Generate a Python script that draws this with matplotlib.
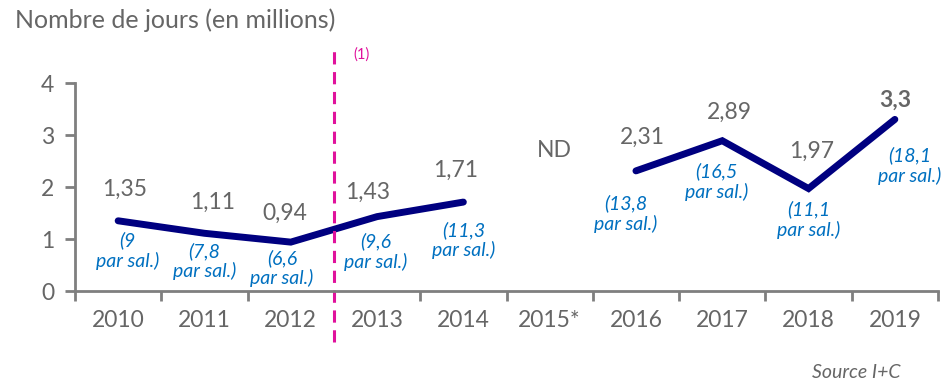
import numpy as np
import matplotlib.pyplot as plt

plt.rcParams['font.family'] = ['Lato', 'DejaVu Sans']

years = ['2010', '2011', '2012', '2013', '2014', '2015*', '2016', '2017', '2018', '2019']
jours = [1.35, 1.11, 0.94, 1.43, 1.71, np.nan, 2.31, 2.89, 1.97, 3.3]
par_sal = [9, 7.8, 6.6, 9.6, 11.3, np.nan, 13.8, 16.5, 11.1, 18.1]

# label offsets in pixels (value above, per-employee below)
val_off = [(6, 31), (8, 31), (-6, 29), (-9, 24), (-8, 32), None, (6, 34), (7, 28), (3, 37), (0, 19)]
sal_off = [(9, -30), (0, -28), (-9, -26), (-1, -35), (0, -38), None, (-10, -43), (-6, -41), (0, -31), (15, -46)]

grey = '#7f7f7f'
txt = '#666666'
blue = '#0070c0'
navy = '#000080'
magenta = '#e0129c'

fig = plt.figure(figsize=(9.49, 3.89), dpi=100)
ax = fig.add_axes([75 / 949, 1 - 291 / 389, 863 / 949, 208 / 389])

x = np.arange(len(years))
ax.plot(x, jours, color=navy, lw=5, solid_joinstyle='miter', solid_capstyle='round')

for i, (v, s) in enumerate(zip(jours, par_sal)):
    if np.isnan(v):
        continue
    bold = i == len(years) - 1
    ax.annotate(str(v).replace('.', ','), (x[i], v), xytext=val_off[i],
                textcoords='offset pixels', ha='center', va='center',
                fontsize=16.5, color=txt, fontweight='bold' if bold else 'normal')
    ax.annotate(f"({s:g}".replace('.', ',') + "\npar sal.)", (x[i], v),
                xytext=sal_off[i], textcoords='offset pixels', ha='center',
                va='center', fontsize=14, color=blue, style='italic',
                linespacing=1.15)

ax.text(5.05, 2.7, 'ND', ha='center', va='center', fontsize=16.5, color=txt)

# break in the series between 2012 and 2013
ax.plot([2.5, 2.5], [-0.98, 4.63], color=magenta, lw=2.2, ls=(0, (4, 2.5)), clip_on=False)
ax.text(2.72, 4.55, '(1)', color=magenta, fontsize=10.5, ha='left', va='center')

ax.set_xlim(-0.5, 9.5)
ax.set_ylim(0, 4)
ax.set_yticks([0, 1, 2, 3, 4])
ax.set_xticks(x)
ax.set_xticklabels(years)
ax.set_xticks(np.arange(-0.5, 10, 1), minor=True)
ax.tick_params(axis='x', which='major', length=0, pad=14, labelsize=16.5, labelcolor=txt)
ax.tick_params(axis='x', which='minor', length=7, width=2, color=grey, direction='out')
ax.tick_params(axis='y', length=7, width=2, color=grey, pad=8, labelsize=16.5, labelcolor=txt)

for side in ['top', 'right']:
    ax.spines[side].set_visible(False)
for side in ['left', 'bottom']:
    ax.spines[side].set_color(grey)
    ax.spines[side].set_linewidth(2)

fig.text(15 / 949, 1 - 20 / 389, 'Nombre de jours (en millions)', fontsize=18,
         color=txt, ha='left', va='center')
fig.text(900 / 949, 1 - 372 / 389, 'Source I+C', fontsize=14, color=txt,
         style='italic', ha='right', va='center')

fig.savefig('out.png', dpi=100)
